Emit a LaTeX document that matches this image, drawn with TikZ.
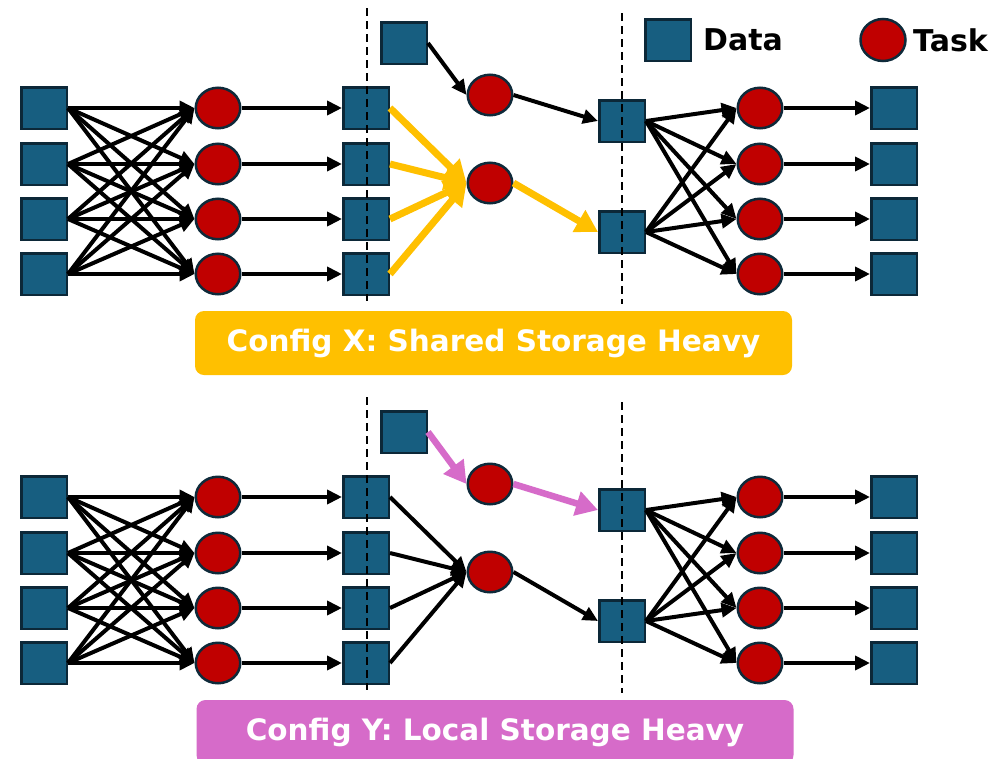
\documentclass[tikz,border=0pt]{standalone}
\usepackage{fontspec}
\setmainfont{DejaVu Sans}
\usetikzlibrary{shapes.geometric,arrows.meta}
\definecolor{dfill}{RGB}{23,94,128}
\definecolor{dline}{RGB}{12,40,56}
\definecolor{tfill}{RGB}{192,0,0}
\definecolor{tline}{RGB}{14,42,58}
\definecolor{gold}{RGB}{255,192,0}
\definecolor{orchid}{RGB}{214,107,201}
\tikzset{
 datanode/.style={rectangle, draw=dline, fill=dfill, line width=2.5pt, minimum width=45.5pt, minimum height=41.5pt, inner sep=0pt},
 tasknode/.style={ellipse, draw=tline, fill=tfill, line width=2.5pt, minimum width=44.5pt, minimum height=40.5pt, inner sep=0pt},
 edge/.style={draw=black, line width=4pt, -{Triangle[length=15pt,width=14pt]}},
 hotgold/.style={draw=gold, line width=7pt, -{Triangle[length=22pt,width=24pt]}},
 hotpink/.style={draw=orchid, line width=6.5pt, -{Triangle[length=22pt,width=24pt]}},
 divider/.style={draw=black, line width=2pt, dash pattern=on 8pt off 5pt},
 banner/.style={rounded corners=9pt, minimum width=597pt, minimum height=64pt, inner sep=0pt, text=white, font=\fontsize{29.5}{34}\selectfont\bfseries},
 legendtext/.style={font=\fontsize{30}{34}\selectfont\bfseries, anchor=west, inner sep=0pt},
}
\newcommand\drawpanel[4]{%
\begin{scope}[shift={(0,#2)}]
 \foreach \i/\y in {1/108,2/164,3/219,4/274}{
  \node[datanode] (L\i#1) at (44,\y) {};
  \node[tasknode] (A\i#1) at (218,\y) {};
  \node[datanode] (M\i#1) at (366,\y) {};
  \node[tasknode] (B\i#1) at (760,\y) {};
  \node[datanode] (O\i#1) at (894,\y) {};
 }
 \node[datanode] (E#1) at (404,43) {};
 \node[tasknode] (U#1) at (490,95) {};
 \node[tasknode] (W#1) at (490,183) {};
 \node[datanode] (R1#1) at (622,121) {};
 \node[datanode] (R2#1) at (622,232) {};
 \foreach \i in {1,...,4}{
  \foreach \j in {1,...,4}{\draw[edge] (L\i#1.east) -- (A\j#1.west);}
  \draw[edge] (A\i#1.east) -- (M\i#1.west);
  \draw[edge] (R1#1.east) -- (B\i#1.west);
  \draw[edge] (R2#1.east) -- (B\i#1.west);
  \draw[edge] (B\i#1.east) -- (O\i#1.west);
  \draw[#4] (M\i#1.east) -- (W#1.west);
 }
 \draw[#3] (E#1.east) -- (U#1.west);
 \draw[#3] (U#1.east) -- (R1#1.west);
 \draw[#4] (W#1.east) -- (R2#1.west);
 \coordinate (P1#1) at (367,8);
 \coordinate (Q1#1) at (367,301);
 \coordinate (P2#1) at (622,13);
 \coordinate (Q2#1) at (622,304);
 \draw[divider] (P1#1) -- (Q1#1);
 \draw[divider] (P2#1) -- (Q2#1);
\end{scope}}
\begin{document}
\begin{tikzpicture}[x=1pt,y=-1pt]
\useasboundingbox (0,0) rectangle (1007,758);
\clip (0,0) rectangle (1007,758);
\fill[white] (0,0) rectangle (1007,758);
\drawpanel{t}{0}{edge}{hotgold}
\drawpanel{b}{389}{hotpink}{edge}
% legend
\node[datanode] (legdata) at (668,40) {};
\node[legendtext] (legdatatext) at (703,40) {Data};
\node[tasknode, minimum width=45pt, minimum height=42pt] (legtask) at (883,40) {};
\node[legendtext] (legtasktext) at (913,40) {Task};
% banners
\node[banner, fill=gold] (bannerx) at (493.5,343) {Config X: Shared Storage Heavy};
\node[banner, fill=orchid] (bannery) at (495,732) {Config Y: Local Storage Heavy};
\end{tikzpicture}
\end{document}
